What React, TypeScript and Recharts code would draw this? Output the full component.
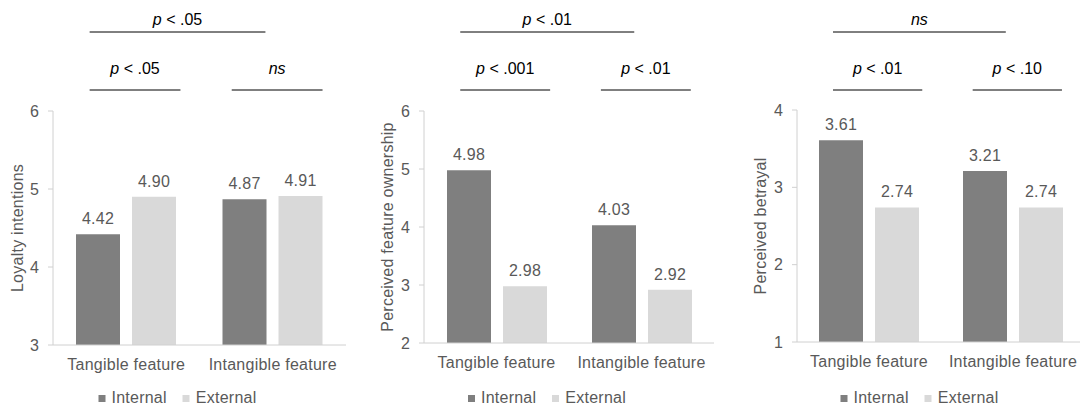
import React from "react";
import { Bar, BarChart, LabelList, Legend, XAxis, YAxis } from "recharts";

const CATEGORIES = ["Tangible feature", "Intangible feature"];
const SERIES_NAMES = ["Internal", "External"];

const LOYALTY_INTERNAL = [4.42, 4.87];
const LOYALTY_EXTERNAL = [4.9, 4.91];
const OWNERSHIP_INTERNAL = [4.98, 4.03];
const OWNERSHIP_EXTERNAL = [2.98, 2.92];
const BETRAYAL_INTERNAL = [3.61, 3.21];
const BETRAYAL_EXTERNAL = [2.74, 2.74];

const LOYALTY_TICKS = [3, 4, 5, 6];
const OWNERSHIP_TICKS = [2, 3, 4, 5, 6];
const BETRAYAL_TICKS = [1, 2, 3, 4];

// significance labels: [both features, tangible, intangible]
const LOYALTY_SIG = ["p < .05", "p < .05", "ns"];
const OWNERSHIP_SIG = ["p < .01", "p < .001", "p < .01"];
const BETRAYAL_SIG = ["ns", "p < .01", "p < .10"];

const INTERNAL_COLOR = "#7f7f7f";
const EXTERNAL_COLOR = "#d9d9d9";
const TEXT_COLOR = "#595959";
const AXIS_COLOR = "#d0d0d0";
const CHART_HEIGHT = 408;
const LEGEND_HEIGHT = 20;

interface PanelConfig {
  title: string;
  internal: number[];
  external: number[];
  ticks: number[];
  sig: string[];
  left: number;
  width: number;
  axisWidth: number;
  top: number;
  right: number;
  plotBottom: number;
  labelOffset: number;
  legendShift: number;
}

const PANELS: PanelConfig[] = [
  {
    title: "Loyalty intentions",
    internal: LOYALTY_INTERNAL,
    external: LOYALTY_EXTERNAL,
    ticks: LOYALTY_TICKS,
    sig: LOYALTY_SIG,
    left: 0,
    width: 360,
    axisWidth: 53,
    top: 111,
    right: 14,
    plotBottom: 345,
    labelOffset: 17,
    legendShift: -2.5,
  },
  {
    title: "Perceived feature ownership",
    internal: OWNERSHIP_INTERNAL,
    external: OWNERSHIP_EXTERNAL,
    ticks: OWNERSHIP_TICKS,
    sig: OWNERSHIP_SIG,
    left: 360,
    width: 360,
    axisWidth: 64,
    top: 111,
    right: 6,
    plotBottom: 343,
    labelOffset: 27,
    legendShift: 7,
  },
  {
    title: "Perceived betrayal",
    internal: BETRAYAL_INTERNAL,
    external: BETRAYAL_EXTERNAL,
    ticks: BETRAYAL_TICKS,
    sig: BETRAYAL_SIG,
    left: 720,
    width: 370,
    axisWidth: 77,
    top: 110,
    right: 5,
    plotBottom: 342,
    labelOffset: 40,
    legendShift: 14.5,
  },
];

// bracket spans in category-band units, measured from the plot's left edge
const BRACKETS = [
  { from: 0.25, to: 1.45, lineY: 32, textY: 25 },
  { from: 0.25, to: 0.87, lineY: 90, textY: 74 },
  { from: 1.22, to: 1.84, lineY: 90, textY: 74 },
];

function SigText({ x, y, label }: { x: number; y: number; label: string }) {
  const italicP = label.startsWith("p ");
  return (
    <text
      x={x}
      y={y}
      textAnchor="middle"
      fontSize={16}
      fill="#000"
      xmlSpace="preserve"
    >
      {italicP ? (
        <>
          <tspan fontStyle="italic">p</tspan>
          <tspan>{label.slice(1)}</tspan>
        </>
      ) : (
        <tspan fontStyle="italic">{label}</tspan>
      )}
    </text>
  );
}

function LegendContent({
  payload,
  shift,
}: {
  payload?: Array<{ value?: string; color?: string }>;
  shift: number;
}) {
  // keep series order (Internal, External) rather than alphabetical
  const items = [...(payload ?? [])].sort(
    (a, b) =>
      SERIES_NAMES.indexOf(a.value ?? "") - SERIES_NAMES.indexOf(b.value ?? "")
  );
  return (
    <div
      style={{
        height: LEGEND_HEIGHT,
        display: "flex",
        justifyContent: "center",
        alignItems: "center",
        transform: `translateX(${shift}px)`,
        fontSize: 16,
        color: TEXT_COLOR,
        letterSpacing: 0.25,
        whiteSpace: "nowrap",
      }}
    >
      {items.map((entry, i) => (
        <span
          key={entry.value}
          style={{
            display: "inline-flex",
            alignItems: "center",
            marginLeft: i ? 16 : 0,
          }}
        >
          <span
            style={{
              display: "inline-block",
              width: 7,
              height: 7,
              background: entry.color,
              marginRight: 6,
            }}
          />
          {entry.value}
        </span>
      ))}
    </div>
  );
}

function Panel({ cfg }: { cfg: PanelConfig }) {
  const data = CATEGORIES.map((name, i) => ({
    name,
    internal: cfg.internal[i],
    external: cfg.external[i],
  }));
  const xAxisHeight = CHART_HEIGHT - LEGEND_HEIGHT - cfg.plotBottom;
  const band = (cfg.width - cfg.axisWidth - cfg.right) / CATEGORIES.length;
  const domain = [cfg.ticks[0], cfg.ticks[cfg.ticks.length - 1]];

  return (
    <div style={{ position: "absolute", left: cfg.left, top: 0 }}>
      <BarChart
        width={cfg.width}
        height={CHART_HEIGHT}
        data={data}
        margin={{ top: cfg.top, right: cfg.right, bottom: 0, left: 0 }}
        barGap={12}
      >
        <XAxis
          dataKey="name"
          interval={0}
          height={xAxisHeight}
          tickLine={false}
          tickSize={0}
          tickMargin={14}
          axisLine={{ stroke: AXIS_COLOR }}
          tick={{ fill: TEXT_COLOR, fontSize: 16, letterSpacing: 0.25 }}
        />
        <YAxis
          width={cfg.axisWidth}
          domain={domain}
          ticks={cfg.ticks}
          allowDecimals={false}
          tickSize={5}
          tickMargin={9}
          axisLine={{ stroke: AXIS_COLOR }}
          tickLine={{ stroke: AXIS_COLOR }}
          tick={{ fill: TEXT_COLOR, fontSize: 16 }}
          label={{
            value: cfg.title,
            angle: -90,
            position: "insideLeft",
            offset: cfg.labelOffset,
            style: {
              textAnchor: "middle",
              fill: TEXT_COLOR,
              fontSize: 16,
              letterSpacing: 0.25,
            },
          }}
        />
        <Legend
          verticalAlign="bottom"
          wrapperStyle={{ left: 0, width: cfg.width, bottom: 0 }}
          content={(props: any) => (
            <LegendContent payload={props.payload} shift={cfg.legendShift} />
          )}
        />
        <Bar
          dataKey="internal"
          name={SERIES_NAMES[0]}
          fill={INTERNAL_COLOR}
          barSize={44}
          isAnimationActive={false}
        >
          <LabelList
            dataKey="internal"
            position="top"
            offset={10}
            formatter={(v: any) => Number(v).toFixed(2)}
            style={{ fill: TEXT_COLOR, fontSize: 16, letterSpacing: 0.25 }}
          />
        </Bar>
        <Bar
          dataKey="external"
          name={SERIES_NAMES[1]}
          fill={EXTERNAL_COLOR}
          barSize={44}
          isAnimationActive={false}
        >
          <LabelList
            dataKey="external"
            position="top"
            offset={10}
            formatter={(v: any) => Number(v).toFixed(2)}
            style={{ fill: TEXT_COLOR, fontSize: 16, letterSpacing: 0.25 }}
          />
        </Bar>
      </BarChart>
      <svg
        width={cfg.width}
        height={100}
        style={{ position: "absolute", left: 0, top: 0, pointerEvents: "none" }}
      >
        {BRACKETS.map((b, i) => {
          const x1 = cfg.axisWidth + band * b.from;
          const x2 = cfg.axisWidth + band * b.to;
          return (
            <g key={i}>
              <line x1={x1} x2={x2} y1={b.lineY} y2={b.lineY} stroke="#000" strokeWidth={1} />
              <SigText x={(x1 + x2) / 2} y={b.textY} label={cfg.sig[i]} />
            </g>
          );
        })}
      </svg>
    </div>
  );
}

export default function App() {
  return (
    <div
      style={{
        position: "fixed",
        left: 0,
        top: 0,
        width: 1080,
        height: 408,
        overflow: "hidden",
        background: "#fff",
        fontFamily: "'Liberation Sans', Arial, sans-serif",
      }}
    >
      {PANELS.map((cfg) => (
        <Panel key={cfg.title} cfg={cfg} />
      ))}
    </div>
  );
}
